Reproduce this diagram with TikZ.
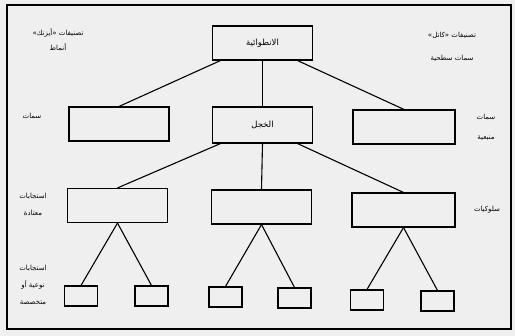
\documentclass[tikz,border=0pt]{standalone}
\usepackage{fontspec}
\newfontfamily\arabicfont[Script=Arabic]{DejaVu Sans}
\TeXXeTstate=1
\usetikzlibrary{calc}
\definecolor{paper}{HTML}{EFEFEF}
\tikzset{
  box/.style={
    rectangle, draw=black, line width=1.1pt, inner sep=0pt, font=\arabicfont\fontsize{8.5}{10}\selectfont
  },
  bigbox/.style={box, minimum width=100pt, minimum height=34pt},
  smallbox/.style={box, minimum width=33pt, minimum height=20pt},
  link/.style={line width=1.1pt},
  sidelabel/.style={align=center, inner sep=0pt, font=\arabicfont\fontsize{7}{17}\selectfont}
}

\begin{document}
\begin{tikzpicture}[x=1pt, y=-1pt]
    \fill[paper] (0,0) rectangle (515,336);
    \useasboundingbox (0,0) rectangle (515,336);
    \draw[line width=1.3pt] (7,5) rectangle (511,329);
    % top level
    \node[bigbox] (intro) at (262.5,43) {\beginR الانطوائية\endR};
    % traits
    \node[bigbox] (traitL) at (119,124) {};
    \node[bigbox, minimum height=36pt] (shy) at (262.5,125) {\beginR الخجل\endR};
    \node[bigbox, minimum width=102pt] (traitR) at (404,127) {};
    % habitual responses
    \node[bigbox] (habL) at (117.5,205.5) {};
    \node[bigbox] (habM) at (261.5,207) {};
    \node[bigbox, minimum width=103pt] (habR) at (403.5,210) {};
    % specific responses
    \node[smallbox] (spec1) at (81,296) {};
    \node[smallbox] (spec2) at (151.5,296) {};
    \node[smallbox] (spec3) at (225.5,297) {};
    \node[smallbox] (spec4) at (294.5,298) {};
    \node[smallbox] (spec5) at (367,300) {};
    \node[smallbox] (spec6) at (437.5,301) {};
    \draw[link] ($(intro.south)+(-42,0)$) -- (traitL.north);
    \draw[link] (intro.south) -- (shy.north);
    \draw[link] ($(intro.south)+(35,0)$) -- (traitR.north);
    \draw[link] ($(shy.south)+(-42,0)$) -- (habL.north);
    \draw[link] (shy.south) -- (habM.north);
    \draw[link] ($(shy.south)+(35,0)$) -- (habR.north);
    \draw[link] (habL.south) -- (spec1.north);
    \draw[link] (habL.south) -- (spec2.north);
    \draw[link] (habM.south) -- (spec3.north);
    \draw[link] (habM.south) -- (spec4.north);
    \draw[link] (habR.south) -- (spec5.north);
    \draw[link] (habR.south) -- (spec6.north);
    % side labels
    \node[sidelabel] (eysenck) at (58,40) {\beginR تصنيفات «أيزنك»\endR\\[-2pt]\beginR أنماط\endR};
    \node[sidelabel] (cattell) at (452,47) {\beginR تصنيفات «كاتل»\endR\\[6pt]\beginR سمات سطحية\endR};
    \node[sidelabel] (traits) at (32,116) {\beginR سمات\endR};
    \node[sidelabel] (source) at (486,127) {\beginR سمات\endR\\[3pt]\beginR منبعية\endR};
    \node[sidelabel] (habits) at (33,204) {\beginR استجابات\endR\\\beginR معتادة\endR};
    \node[sidelabel] (behav) at (487,210) {\beginR سلوكيات\endR};
    \node[sidelabel] (specif) at (33,285) {\beginR استجابات\endR\\\beginR نوعية أو\endR\\\beginR متخصصة\endR};
\end{tikzpicture}
\end{document}
